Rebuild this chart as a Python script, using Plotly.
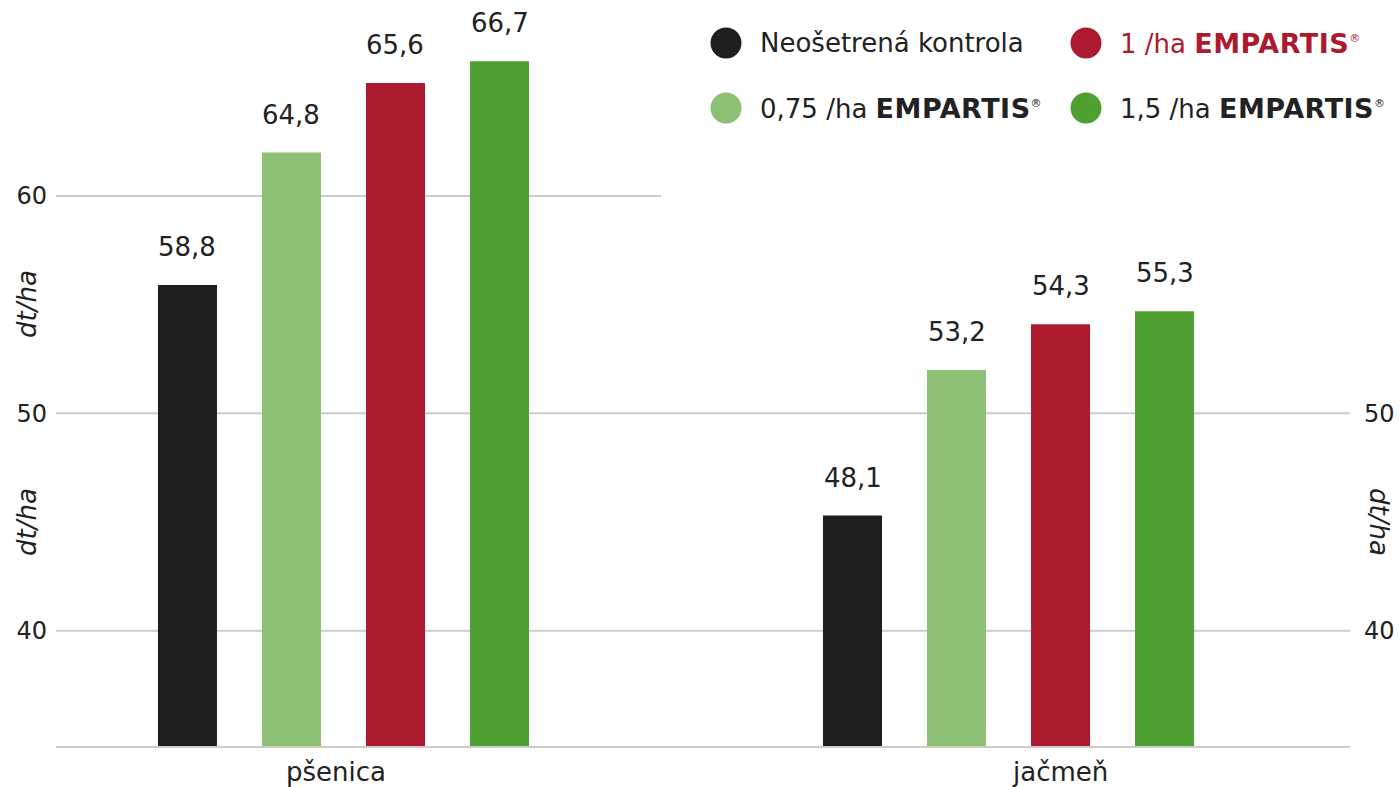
import plotly.graph_objects as go

# ---------------- data ----------------
categories = ["pšenica", "jačmeň"]
series_names = ["Neošetrená kontrola", "0,75 /ha EMPARTIS®", "1 /ha EMPARTIS®", "1,5 /ha EMPARTIS®"]
colors = ["#1e1e1c", "#8dbf74", "#ac1a2f", "#4ea032"]

# bar heights as drawn in the picture (dt/ha)
heights_kontrola = [55.9, 45.3]
heights_075 = [62.0, 52.0]
heights_1 = [65.2, 54.1]
heights_15 = [66.2, 54.7]

# value labels printed above bars
labels_kontrola = ["58,8", "48,1"]
labels_075 = ["64,8", "53,2"]
labels_1 = ["65,6", "54,3"]
labels_15 = ["66,7", "55,3"]

left_ticks = [40, 50, 60]
right_ticks = [40, 50]
axis_title = "dt/ha"

heights = [heights_kontrola, heights_075, heights_1, heights_15]
labels = [labels_kontrola, labels_075, labels_1, labels_15]

# ---------------- layout constants ----------------
W, H = 1399, 787
PL, PR, PT, PB = 56, 1350, 20, 746  # plot area in pixels
Y_RANGE = [34.695, 68.098]
X_RANGE = [-0.4323, 1.5135]
BARGAP = 0.3744
BARGROUPGAP = 0.4327
FONT = "DejaVu Sans"
TXT = "#222222"
GRID = "#cccccc"


def px_x(px):
    return (px - PL) / (PR - PL)


def px_y(py):
    return (PB - py) / (PB - PT)


fig = go.Figure()
for name, h, c in zip(series_names, heights, colors):
    fig.add_trace(go.Bar(x=categories, y=h, name=name, marker=dict(color=c, line=dict(width=0)),
                         showlegend=False, hoverinfo="skip"))

# empty trace so that the right-hand axis is drawn
fig.add_trace(go.Scatter(x=[], y=[], yaxis="y2", showlegend=False, hoverinfo="skip"))

# value labels above bars
n = len(series_names)
slot = (1 - BARGAP) / n
annotations = []
for i, (h, lab) in enumerate(zip(heights, labels)):
    for j in range(len(categories)):
        annotations.append(dict(x=j + (i - (n - 1) / 2) * slot, y=h[j], xref="x", yref="y",
                                text=lab[j], showarrow=False, yanchor="middle", yshift=38,
                                font=dict(family=FONT, size=26, color=TXT)))

# category labels
cat_shift = [-7, 51]
for j, cat in enumerate(categories):
    annotations.append(dict(x=j, y=0, xref="x", yref="paper", text=cat, showarrow=False,
                            yanchor="middle", yshift=-26, xshift=cat_shift[j],
                            font=dict(family=FONT, size=26, color=TXT)))

# axis titles
for (px, py, ang) in [(27, 304, -90), (27, 522, -90), (1379, 522, 90)]:
    annotations.append(dict(x=px_x(px), y=px_y(py), xref="paper", yref="paper",
                            text="<i>" + axis_title + "</i>", textangle=ang, showarrow=False,
                            xanchor="center", yanchor="middle",
                            font=dict(family=FONT, size=26, color=TXT)))

# custom legend (2 x 2)
legend_pos = {0: (726, 43), 2: (1086, 43), 1: (726, 108), 3: (1086, 108)}
shapes = []
for i, name in enumerate(series_names):
    cx, cy = legend_pos[i]
    r = 15.5
    shapes.append(dict(type="circle", xref="paper", yref="paper",
                       x0=px_x(cx - r), x1=px_x(cx + r), y0=px_y(cy + r), y1=px_y(cy - r),
                       fillcolor=colors[i], line=dict(width=0)))
    label = name.replace("EMPARTIS®",
                         "<b><span style='font-size:27px;letter-spacing:0.5px'>EMPARTIS</span></b>"
                         "<sup><span style='font-size:11px'>®</span></sup>")
    col = colors[i] if i == 2 else TXT
    annotations.append(dict(x=px_x(cx + 32), y=px_y(cy), xref="paper", yref="paper",
                            text=label, showarrow=False, xanchor="left", yanchor="middle",
                            font=dict(family=FONT, size=26, color=col)))

# gridlines
shapes.append(dict(type="line", xref="paper", yref="y", x0=0, x1=px_x(661), y0=60, y1=60,
                   line=dict(color=GRID, width=2), layer="below"))
for v in [40, 50]:
    shapes.append(dict(type="line", xref="paper", yref="y", x0=0, x1=1, y0=v, y1=v,
                       line=dict(color=GRID, width=2), layer="below"))

fig.update_layout(
    width=W, height=H,
    margin=dict(l=PL, r=W - PR, t=PT, b=H - PB, pad=0, autoexpand=False),
    paper_bgcolor="white", plot_bgcolor="white",
    barmode="group", bargap=BARGAP, bargroupgap=BARGROUPGAP,
    font=dict(family=FONT, size=24, color=TXT),
    showlegend=False,
    xaxis=dict(range=X_RANGE, showticklabels=False, ticks="", showgrid=False, zeroline=False,
               showline=True, linecolor=GRID, linewidth=2, automargin=False),
    yaxis=dict(range=Y_RANGE, tickvals=left_ticks, ticks="", showgrid=False, zeroline=False,
               showline=False, ticklabelstandoff=8, tickfont=dict(size=24, color=TXT),
               automargin=False),
    yaxis2=dict(range=Y_RANGE, overlaying="y", side="right", anchor="x", tickvals=right_ticks,
                ticks="", showgrid=False, zeroline=False, showline=False,
                ticklabelstandoff=13, tickfont=dict(size=24, color=TXT), automargin=False),
    annotations=annotations,
    shapes=shapes,
)

fig.write_html("out.html", config={"displayModeBar": False},
               post_script="document.body.style.margin='0';")
